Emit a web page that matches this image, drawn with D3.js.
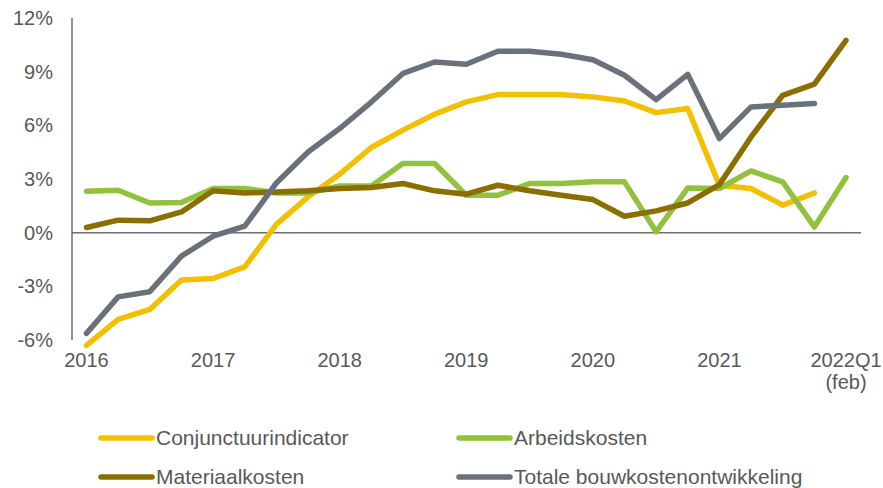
<!DOCTYPE html>
<html><head><meta charset="utf-8">
<script src="https://cdn.jsdelivr.net/npm/d3@7"></script>
<style>html,body{margin:0;padding:0;background:#fff;}svg{display:block;font-family:"Liberation Sans",Arial,sans-serif;}</style>
</head><body><svg id="c" width="883" height="488"></svg>
<script>
const quarters = d3.range(25); // 2016Q1 .. 2022Q1
const xTickIdx = [0,4,8,12,16,20,24];
const xTickLabels = [["2016"],["2017"],["2018"],["2019"],["2020"],["2021"],["2022Q1","(feb)"]];
const yTicks = [-6,-3,0,3,6,9,12];

const seriesNames = ["Conjunctuurindicator","Arbeidskosten","Materiaalkosten","Totale bouwkostenontwikkeling"];
const seriesColors = ["#F2C000","#92C13E","#8B6D00","#6B717B"];

const conjunctuur = [-6.3,-4.85,-4.29,-2.65,-2.56,-1.91,0.46,2.0,3.27,4.76,5.73,6.62,7.31,7.72,7.72,7.72,7.59,7.36,6.71,6.94,2.65,2.47,1.54,2.22,null];
const arbeid = [2.32,2.37,1.66,1.68,2.47,2.47,2.22,2.22,2.61,2.61,3.87,3.87,2.09,2.09,2.75,2.75,2.84,2.84,0.05,2.5,2.47,3.45,2.84,0.32,3.08];
const materiaal = [0.29,0.7,0.66,1.16,2.34,2.22,2.28,2.34,2.47,2.53,2.75,2.34,2.15,2.65,2.34,2.09,1.85,0.92,1.22,1.66,2.69,5.35,7.68,8.3,10.75];
const totaal = [-5.63,-3.59,-3.3,-1.31,-0.2,0.36,2.78,4.51,5.82,7.3,8.9,9.54,9.41,10.14,10.14,9.97,9.67,8.8,7.44,8.85,5.26,7.03,7.12,7.22,null];
const allSeries = [conjunctuur, arbeid, materiaal, totaal];

const svg = d3.select("#c");
const x = d3.scaleLinear().domain([0,24]).range([86.5,846]);
const y = d3.scaleLinear().domain([-6,12]).range([340,18]);
const txt = "#595959", axc = "#6B6E75";

// y axis line
svg.append("line").attr("x1",72).attr("x2",72).attr("y1",y(12)).attr("y2",y(-6)).attr("stroke",axc).attr("stroke-width",1.5);
// y labels
svg.selectAll(".yl").data(yTicks).enter().append("text")
  .attr("x",53).attr("y",d=>y(d)).attr("dy","0.35em").attr("text-anchor","end")
  .attr("font-size",20).attr("fill",txt).text(d=>d+"%");
// zero line
svg.append("line").attr("x1",72).attr("x2",861).attr("y1",y(0)).attr("y2",y(0)).attr("stroke",axc).attr("stroke-width",1.5);
// x labels
xTickIdx.forEach((q,i)=>{
  const t = svg.append("text").attr("x",x(q)).attr("y",367).attr("text-anchor","middle").attr("font-size",20).attr("fill",txt);
  xTickLabels[i].forEach((s,j)=>t.append("tspan").attr("x",x(q)).attr("dy",j===0?0:22).text(s));
});

const line = d3.line().defined(d=>d[1]!==null).x(d=>x(d[0])).y(d=>y(d[1]));
allSeries.forEach((s,i)=>{
  svg.append("path").datum(quarters.map(q=>[q,s[q]]))
    .attr("d",line).attr("fill","none").attr("stroke",seriesColors[i])
    .attr("stroke-width",5.5).attr("stroke-linejoin","round").attr("stroke-linecap","round");
});

// legend
const legPos = [[100,438],[458,438],[100,477],[458,477]];
seriesNames.forEach((n,i)=>{
  const [lx,ly]=legPos[i];
  svg.append("line").attr("x1",lx+1).attr("x2",lx+52).attr("y1",ly).attr("y2",ly)
    .attr("stroke",seriesColors[i]).attr("stroke-width",5.5).attr("stroke-linecap","round");
  svg.append("text").attr("x",lx+56).attr("y",ly).attr("dy","0.35em").attr("font-size",21).attr("fill",txt).text(n);
});
</script></body></html>
